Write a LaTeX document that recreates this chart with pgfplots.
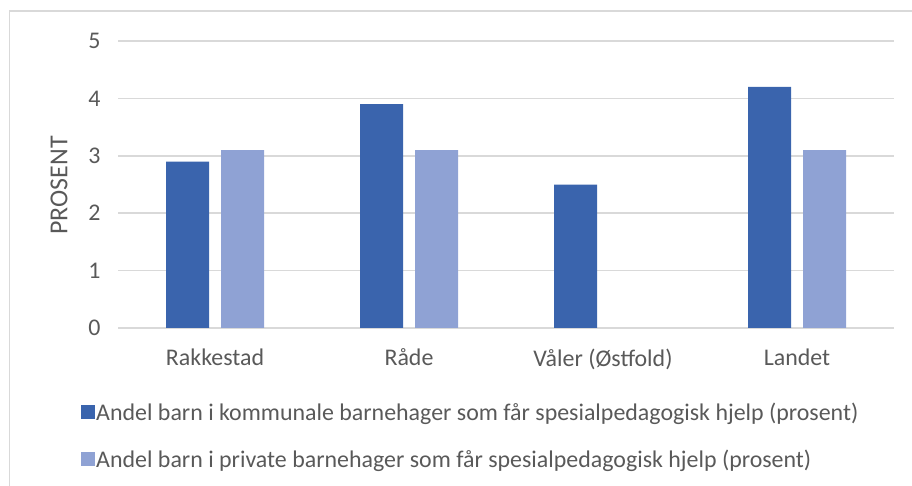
\documentclass[border=0pt]{standalone}
\usepackage{pgfplots}
\pgfplotsset{compat=1.18}
\usepackage{fontspec}
\setmainfont{Carlito}
\definecolor{dark}{HTML}{3A64AD}
\definecolor{light}{HTML}{8FA2D4}
\definecolor{txt}{HTML}{595959}
\definecolor{gridc}{HTML}{D9D9D9}
\begin{document}
\begin{tikzpicture}
\path[use as bounding box] (0bp,0bp) rectangle (912bp,486bp);
\draw[gridc, line width=1.5bp] (9.5bp,0bp) -- (9.5bp,475bp) -- (912bp,475bp);
\begin{axis}[
  at={(118bp,158bp)}, anchor=south west,
  width=776bp, height=287bp, scale only axis,
  ymin=0, ymax=5, xmin=-0.5, xmax=3.5,
  ybar=12bp, bar width=43bp,
  xtick={0,1,2,3},
  xticklabels={Rakkestad,Råde,Våler (Østfold),Landet},
  ytick={0,1,2,3,4,5},
  ymajorgrids, grid style={gridc, line width=1.5bp},
  axis line style={draw=none},
  major tick length=0pt,
  /pgf/number format/assume math mode=true,
  tick label style={font=\fontsize{24}{29}\selectfont, text=txt},
  yticklabel style={xshift=-14bp},
  xticklabel style={yshift=-17bp},
  ylabel={PROSENT},
  ylabel style={font=\fontsize{26}{31}\selectfont, text=txt, at={(axis description cs:-0.0760,0.497)}, anchor=center},
  legend style={at={(axis description cs:-0.0515,-0.25)}, anchor=north west, draw=none, fill=none,
    font=\fontsize{24}{29}\selectfont, text=txt, row sep=26bp, nodes={inner sep=1bp}},
  legend cell align=left,
  legend image code/.code={\fill (0bp,-6.5bp) rectangle (14bp,7bp);},
]
\addplot[fill=dark, draw=none] coordinates {(0,2.9) (1,3.9) (2,2.5) (3,4.2)};
\addplot[fill=light, draw=none] coordinates {(0,3.1) (1,3.1) (3,3.1)};
\legend{Andel barn i kommunale barnehager som får spesialpedagogisk hjelp (prosent),
Andel barn i private barnehager som får spesialpedagogisk hjelp (prosent)}
\end{axis}
\end{tikzpicture}
\end{document}
